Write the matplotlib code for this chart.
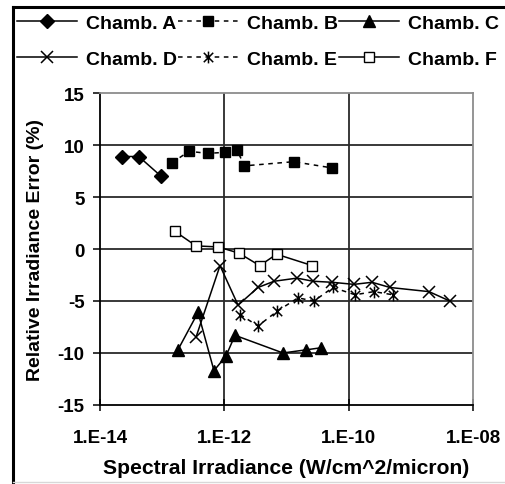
import numpy as np
import matplotlib
matplotlib.use("Agg")
import matplotlib.pyplot as plt
from matplotlib.path import Path
from matplotlib.lines import Line2D

plt.rcParams["font.family"] = ["Liberation Sans", "DejaVu Sans"]
plt.rcParams["font.weight"] = "bold"

# ---- data ----
a_x = [2.3e-14, 4.2e-14, 9.6e-14]
a_y = [8.9, 8.9, 7.0]

b_x = [1.44e-13, 2.7e-13, 5.4e-13, 1.02e-12, 1.6e-12, 2.1e-12, 1.3e-11, 5.4e-11]
b_y = [8.3, 9.4, 9.2, 9.3, 9.5, 8.0, 8.4, 7.8]

c_x = [1.79e-13, 3.77e-13, 6.8e-13, 1.06e-12, 1.48e-12, 8.75e-12, 2.05e-11, 3.57e-11]
c_y = [-9.7, -6.1, -11.7, -10.3, -8.3, -10.0, -9.7, -9.5]

d_x = [3.49e-13, 8.5e-13, 1.66e-12, 3.47e-12, 6.3e-12, 1.47e-11, 2.66e-11,
       5.37e-11, 1.21e-10, 2.36e-10, 4.6e-10, 1.95e-9, 4.2e-9]
d_y = [-8.5, -1.6, -5.4, -3.7, -3.1, -2.8, -3.1, -3.2, -3.4, -3.2, -3.7, -4.1, -5.0]

e_x = [1.78e-12, 3.47e-12, 7.0e-12, 1.52e-11, 2.76e-11, 5.57e-11, 1.26e-10, 2.54e-10, 5.1e-10]
e_y = [-6.3, -7.4, -6.0, -4.7, -5.0, -3.7, -4.4, -4.1, -4.4]

f_x = [1.6e-13, 3.5e-13, 8.0e-13, 1.72e-12, 3.7e-12, 6.9e-12, 2.6e-11]
f_y = [1.7, 0.3, 0.2, -0.4, -1.6, -0.5, -1.6]

x_ticks = [1e-14, 1e-12, 1e-10, 1e-8]
x_tick_labels = ["1.E-14", "1.E-12", "1.E-10", "1.E-08"]
y_ticks = [-15, -10, -5, 0, 5, 10, 15]

# Excel-style asterisk: an X with a vertical bar
asterisk = Path(
    [(-1, -1), (1, 1), (-1, 1), (1, -1), (0, -1.25), (0, 1.25)],
    [Path.MOVETO, Path.LINETO, Path.MOVETO, Path.LINETO, Path.MOVETO, Path.LINETO],
)

fig = plt.figure(figsize=(5.05, 4.85), dpi=100)
ax = fig.add_axes([0.198, 0.163, 0.739, 0.643])

lw = 1.1
dash = (0, (3, 3))
hA, = ax.plot(a_x, a_y, color="black", lw=lw, marker="D", ms=7.5, mfc="black", mec="black")
hB, = ax.plot(b_x, b_y, color="black", lw=lw, ls=dash, marker="s", ms=7.5, mfc="black", mec="black")
hC, = ax.plot(c_x, c_y, color="black", lw=lw, marker="^", ms=9, mfc="black", mec="black")
hD, = ax.plot(d_x, d_y, color="black", lw=lw, marker="x", ms=8.5, mew=1.1, mec="black")
hE, = ax.plot(e_x, e_y, color="black", lw=lw, ls=dash, marker=asterisk, ms=8.5, mew=1.1, mec="black")
hF, = ax.plot(f_x, f_y, color="black", lw=lw, marker="s", ms=7.5, mfc="white", mec="black", mew=1.0)

ax.set_xscale("log")
ax.set_xlim(1e-14, 1e-8)
ax.set_ylim(-15, 15)
ax.set_xticks(x_ticks)
ax.set_xticklabels(x_tick_labels)
ax.xaxis.set_minor_locator(matplotlib.ticker.NullLocator())
ax.set_yticks(y_ticks)
ax.set_yticklabels([str(v) for v in y_ticks])

for v in [-10, -5, 0, 5, 10]:
    ax.axhline(v, color="#2a2a2a", lw=1.3, zorder=0)
for v in [1e-12, 1e-10]:
    ax.axvline(v, color="#2a2a2a", lw=1.3, zorder=0)

ax.spines["top"].set_color("#8c8c8c")
ax.spines["right"].set_color("#8c8c8c")
for s in ["top", "right"]:
    ax.spines[s].set_linewidth(1.3)
for s in ["left", "bottom"]:
    ax.spines[s].set_linewidth(1.3)
    ax.spines[s].set_color("black")

ax.tick_params(axis="x", direction="inout", length=8, width=1.1, labelsize=13.5, pad=13)
ax.tick_params(axis="y", direction="out", length=5, width=1.1, labelsize=13.5, pad=6)

ax.set_xlabel("Spectral Irradiance (W/cm^2/micron)", fontsize=15.2, fontweight="bold")
ax.set_ylabel("Relative Irradiance Error (%)", fontsize=14, fontweight="bold")
ax.xaxis.set_label_coords(0.5, -0.17)
ax.yaxis.set_label_coords(-0.15, 0.5)

# legend: reorder so column-major fill gives rows A B C / D E F
handles = [hA, hD, hB, hE, hC, hF]
labels = ["Chamb. A", "Chamb. D", "Chamb. B", "Chamb. E", "Chamb. C", "Chamb. F"]
fig.legend(handles, labels, loc="upper left", bbox_to_anchor=(17 / 505, 1 - 15 / 485),
           ncol=3, frameon=False, prop={"size": 14, "weight": "bold"},
           handlelength=3.1, handletextpad=0.45, columnspacing=0.05,
           labelspacing=0.95, borderpad=0, borderaxespad=0)

# chart-area frame (left and top edges visible in the reference)
fig.add_artist(Line2D([13 / 505, 13 / 505], [0, 1 - 8 / 485], transform=fig.transFigure,
                      color="black", lw=2.2))
fig.add_artist(Line2D([13 / 505, 1], [1 - 8 / 485, 1 - 8 / 485], transform=fig.transFigure,
                      color="black", lw=2.2))
fig.add_artist(Line2D([13 / 505, 1], [2 / 485, 2 / 485], transform=fig.transFigure,
                      color="#d8d8d8", lw=1.0))

fig.savefig("out.png", dpi=100)
